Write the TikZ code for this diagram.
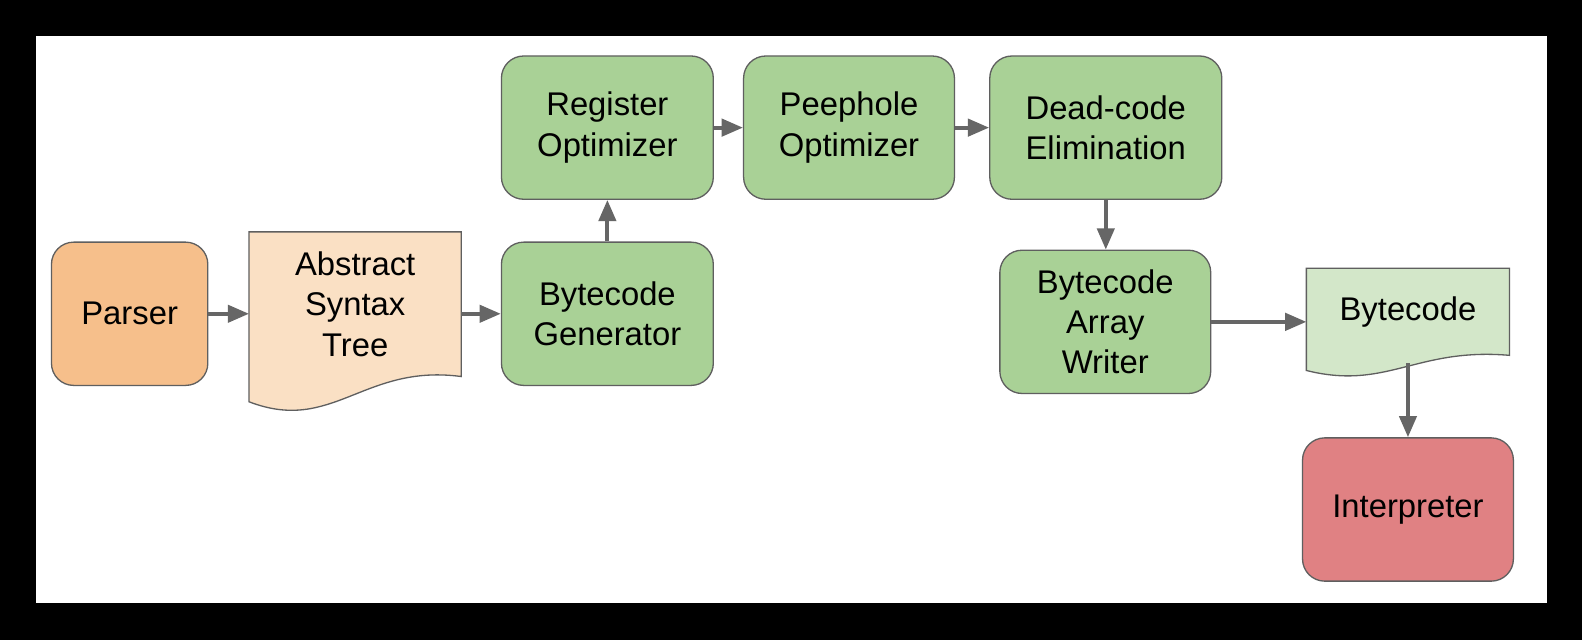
\documentclass[tikz,border=0pt]{standalone}
\usepackage{fontspec}
\setmainfont{Liberation Sans}
\usetikzlibrary{arrows.meta,positioning}
\definecolor{parserfill}{HTML}{F6BF8B}
\definecolor{astfill}{HTML}{FAE0C4}
\definecolor{stagegreen}{HTML}{A9D196}
\definecolor{bcfill}{HTML}{D3E7C9}
\definecolor{interpfill}{HTML}{E08183}
\definecolor{edgegray}{HTML}{5F5F5F}
\definecolor{arrowgray}{HTML}{666666}
\pgfdeclarelayer{bg}
\pgfsetlayers{bg,main}

\begin{document}
\begin{tikzpicture}[x=1pt,y=-1pt,>={Triangle[length=21pt,width=17pt]},
  stage/.style={rectangle,rounded corners=22pt,draw=edgegray,line width=1.3pt,fill=stagegreen,text=black,align=center,inner sep=0pt,font=\fontsize{32.5}{40}\selectfont},
  doc/.style={rectangle,inner sep=0pt,text=black,align=center,font=\fontsize{32.5}{40}\selectfont},
  docedge/.style={draw=edgegray,line width=1.3pt},
  flow/.style={->,draw=arrowgray,line width=3.8pt}]
\node[stage,fill=parserfill,minimum width=155pt,minimum height=142pt] (parser) at (128.5,311) {Parser};
\node[doc,minimum width=210pt,minimum height=143pt] (ast) at (352,301.5) {Abstract\\Syntax\\Tree};
\node[stage,minimum width=210pt,minimum height=142pt] (gen) at (602,311) {Bytecode\\Generator};
\node[stage,minimum width=210pt,minimum height=142pt] (regopt) at (602,126.5) {Register\\Optimizer};
\node[stage,minimum width=209pt,minimum height=142pt] (peep) at (841.5,126.5) {Peephole\\Optimizer};
\node[stage,minimum width=230pt,minimum height=142pt] (dce) at (1096,126.5) {Dead-code\\Elimination};
\node[stage,minimum width=209pt,minimum height=142pt] (writer) at (1095.5,319) {Bytecode\\Array\\Writer};
\node[doc,minimum width=201pt,minimum height=86pt] (bc) at (1395.5,309) {Bytecode};
\node[stage,fill=interpfill,minimum width=209pt,minimum height=142pt] (interp) at (1395.5,505) {Interpreter};

% frame and document shapes
\begin{pgfonlayer}{bg}
\fill[black] (0,0) rectangle (1568,634);
\fill[white] (36,36) rectangle (1533,598);
\filldraw[docedge,fill=astfill] (ast.north west) -- (ast.north east) -- (ast.south east) .. controls +(-97,-13) and +(83,32) .. ([yshift=-25pt]ast.south west) -- cycle;
\filldraw[docedge,fill=bcfill] (bc.north west) -- (bc.north east) -- (bc.south east) .. controls +(-93,-8) and +(80,20) .. ([yshift=-15pt]bc.south west) -- cycle;
\end{pgfonlayer}

\draw[flow] (parser.east) -- (parser.east -| ast.west);
\draw[flow] (ast.east |- gen.west) -- (gen.west);
\draw[flow] (gen.north) -- (regopt.south);
\draw[flow] (regopt.east) -- (peep.west);
\draw[flow] (peep.east) -- (dce.west);
\draw[flow] (dce.south) -- (dce.south |- writer.north);
\draw[flow] (writer.east) -- (writer.east -| bc.west);
\draw[flow] ([yshift=-8pt]bc.south) -- (interp.north);
\end{tikzpicture}
\end{document}
